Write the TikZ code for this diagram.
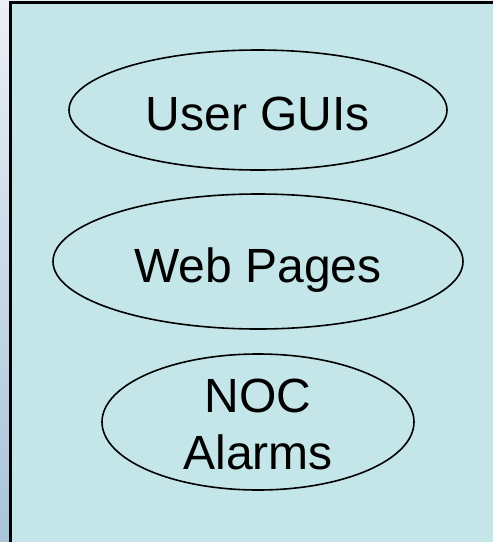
\documentclass[tikz,border=0pt]{standalone}
\usepackage{fontspec}
\setmainfont{Liberation Sans}
\usetikzlibrary{shapes.geometric}

\definecolor{panelfill}{RGB}{196,230,233}
\definecolor{edgetop}{RGB}{234,239,246}
\definecolor{edgebottom}{RGB}{168,196,216}

\tikzset{
  oval/.style={draw=black, line width=1.6pt, ellipse, inner sep=0pt},
  label48/.style={inner sep=0pt, font=\fontsize{48}{57}\selectfont, align=center}
}

\begin{document}
\begin{tikzpicture}[x=1pt, y=-1pt]
  \useasboundingbox (0,0) rectangle (493,542);
  \clip (0,0) rectangle (493,542);

  % shaded strip on the left edge
  \shade[top color=edgetop, bottom color=edgebottom] (0,0) rectangle (10,542);
  \fill[edgetop] (0,0) rectangle (493,2);

  % panel running off the right and bottom edges
  \draw[line width=3pt, fill=panelfill] (10.5,2.2) rectangle (520,570);

  % ovals
  \node[oval, minimum width=378pt, minimum height=120pt] (gui) at (258,110) {};
  \node[oval, minimum width=410pt, minimum height=135pt] (web) at (258,261.5) {};
  \node[oval, minimum width=312pt, minimum height=136pt] (noc) at (258,422) {};

  % labels
  \node[label48, anchor=base] (guitext) at (258,130) {User GUIs};
  \node[label48, anchor=base] (webtext) at (258,282) {Web Pages};
  \node[label48, anchor=center] (noctext) at (258,424) {NOC\\Alarms};
\end{tikzpicture}
\end{document}
